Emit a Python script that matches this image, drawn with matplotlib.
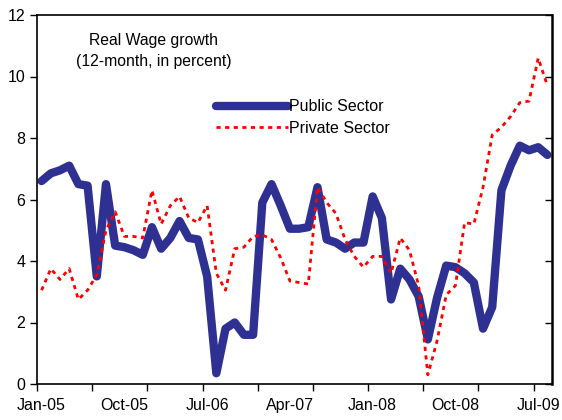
#!/usr/bin/env python3
# -*- coding: utf-8 -*-

"""
Real wage growth, public vs private sector (monthly, Jan-05 to Aug-09).
"""

import matplotlib
matplotlib.use("Agg")
import matplotlib.pyplot as plt
import numpy as np

# DATA ########################################################################

# monthly, Jan-05 ... Aug-09 (56 months)
public_sector = [6.6, 6.85, 6.95, 7.1, 6.5, 6.45, 3.5, 6.5, 4.5, 4.45,
                 4.35, 4.2, 5.1, 4.4, 4.75, 5.3, 4.75, 4.7, 3.5, 0.35,
                 1.8, 2.0, 1.6, 1.6, 5.9, 6.5, 5.8, 5.05, 5.05, 5.1,
                 6.4, 4.7, 4.6, 4.4, 4.6, 4.6, 6.1, 5.4, 2.75, 3.75,
                 3.4, 2.85, 1.45, 2.8, 3.85, 3.8, 3.6, 3.3, 1.8, 2.5,
                 6.3, 7.1, 7.75, 7.6, 7.7, 7.45]

private_sector = [3.05, 3.75, 3.4, 3.75, 2.75, 3.05, 3.55, 5.0, 5.6, 4.8,
                  4.8, 4.75, 6.3, 5.2, 5.8, 6.1, 5.4, 5.25, 5.8, 3.6,
                  3.05, 4.4, 4.45, 4.8, 4.85, 4.7, 4.1, 3.35, 3.3, 3.25,
                  6.4, 5.9, 5.55, 4.7, 4.15, 3.8, 4.15, 4.15, 3.6, 4.75,
                  4.35, 3.2, 0.3, 1.4, 2.9, 3.2, 5.25, 5.2, 6.4, 8.1,
                  8.35, 8.7, 9.15, 9.2, 10.6, 9.7]

label_months = [0, 9, 18, 27, 36, 45, 54]
label_text = ["Jan-05", "Oct-05", "Jul-06", "Apr-07", "Jan-08", "Oct-08", "Jul-09"]

# PLOT ########################################################################

plt.rcParams["font.family"] = ["Liberation Sans", "DejaVu Sans"]

fig = plt.figure(figsize=(5.62, 4.2), dpi=100)
ax = fig.add_axes([37 / 562, 1 - 384 / 420, (552 - 37) / 562, (384 - 15) / 420])

x = np.arange(len(public_sector))

ax.plot(x, public_sector, color="#2E3192", linewidth=6,
        solid_joinstyle="round", solid_capstyle="round", label="Public Sector")
ax.plot(x, private_sector, color="red", linewidth=2,
        linestyle=(0, (1.5, 1.6)), label="Private Sector")

ax.set_xlim(-0.5, len(public_sector) - 0.5)
ax.set_ylim(0, 12)

# tick marks every 6 months (between categories), labels every 9 months
ax.set_xticks(np.arange(-0.5, len(public_sector), 6))
ax.set_xticklabels([])
ax.set_xticks(label_months, minor=True)
ax.set_xticklabels(label_text, minor=True, fontsize=11.5)
ax.tick_params(axis="x", which="major", direction="out", length=5, width=1)
ax.tick_params(axis="x", which="minor", length=0, pad=10)

ax.set_yticks(range(0, 13, 2))
ax.tick_params(axis="y", direction="out", length=5, width=1, labelsize=11.5,
               right=True)
for t in ax.yaxis.get_ticklines()[1::2]:
    t.set_marker(0)  # right side ticks point inward

for side in ["left", "bottom", "right", "top"]:
    ax.spines[side].set_linewidth(1.2)
ax.spines["right"].set_linewidth(1.8)

ax.text(0.227, 0.95, "Real Wage growth\n(12-month, in percent)",
        transform=ax.transAxes, ha="center", va="top", fontsize=11.3,
        linespacing=1.5)

ax.legend(loc="upper left", bbox_to_anchor=(0.347, 0.772), frameon=False,
          fontsize=11.5, handlelength=4.5, handletextpad=0.1, labelspacing=0.4,
          borderaxespad=0, borderpad=0)

plt.savefig("out.png", dpi=100)
